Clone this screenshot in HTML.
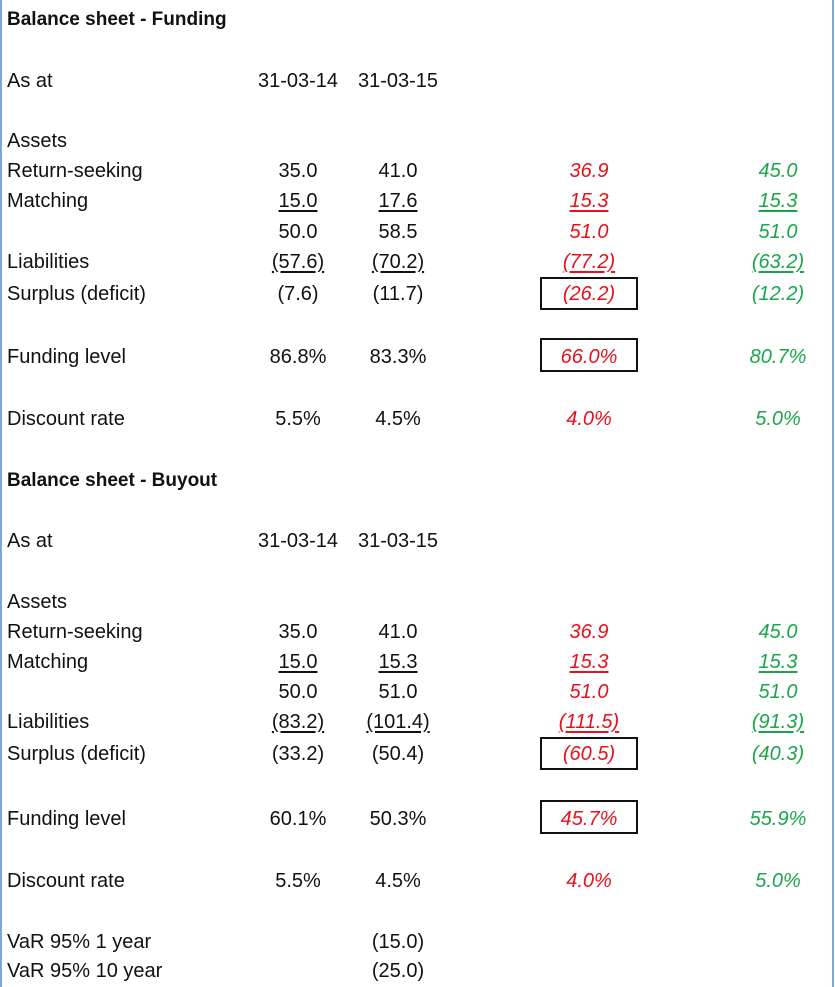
<!DOCTYPE html>
<html><head><meta charset="utf-8"><style>
body{margin:0;background:#fff;}
#page{position:relative;width:835px;height:987px;overflow:hidden;background:#fff;font-family:"Liberation Sans",sans-serif;font-size:20px;color:#111;}
.bl{position:absolute;top:0;bottom:0;width:2px;background:#7da7d9;}
.t{position:absolute;white-space:nowrap;transform:translateY(-50%);line-height:22px;margin-top:1px;}
.c{transform:translate(-50%,-50%);}
.b{font-weight:bold;font-size:19px;}
.r{color:#e8101a;font-style:italic;}
.g{color:#1aa64a;font-style:italic;}
.u{text-decoration:underline;text-underline-offset:3px;}
.box{position:absolute;border:2.5px solid #111;box-sizing:border-box;}
</style></head><body>
<div id="page">
<div class="bl" style="left:0"></div>
<div class="bl" style="left:832px"></div>

<div class="t b" style="left:7px;top:19px">Balance sheet - Funding</div>
<div class="t" style="left:7px;top:80px">As at</div>
<div class="t c" style="left:298px;top:80px">31-03-14</div>
<div class="t c" style="left:398px;top:80px">31-03-15</div>
<div class="t" style="left:7px;top:140px">Assets</div>

<div class="t" style="left:7px;top:170px">Return-seeking</div>
<div class="t c" style="left:298px;top:170px">35.0</div>
<div class="t c" style="left:398px;top:170px">41.0</div>
<div class="t c r" style="left:589px;top:170px">36.9</div>
<div class="t c g" style="left:778px;top:170px">45.0</div>

<div class="t" style="left:7px;top:200px">Matching</div>
<div class="t c u" style="left:298px;top:200px">15.0</div>
<div class="t c u" style="left:398px;top:200px">17.6</div>
<div class="t c r u" style="left:589px;top:200px">15.3</div>
<div class="t c g u" style="left:778px;top:200px">15.3</div>

<div class="t c" style="left:298px;top:231px">50.0</div>
<div class="t c" style="left:398px;top:231px">58.5</div>
<div class="t c r" style="left:589px;top:231px">51.0</div>
<div class="t c g" style="left:778px;top:231px">51.0</div>

<div class="t" style="left:7px;top:261px">Liabilities</div>
<div class="t c u" style="left:298px;top:261px">(57.6)</div>
<div class="t c u" style="left:398px;top:261px">(70.2)</div>
<div class="t c r u" style="left:589px;top:261px">(77.2)</div>
<div class="t c g u" style="left:778px;top:261px">(63.2)</div>

<div class="t" style="left:7px;top:293px">Surplus (deficit)</div>
<div class="t c" style="left:298px;top:293px">(7.6)</div>
<div class="t c" style="left:398px;top:293px">(11.7)</div>
<div class="box" style="left:540px;top:277px;width:98px;height:33px"></div>
<div class="t c r" style="left:589px;top:293px">(26.2)</div>
<div class="t c g" style="left:778px;top:293px">(12.2)</div>

<div class="t" style="left:7px;top:356px">Funding level</div>
<div class="t c" style="left:298px;top:356px">86.8%</div>
<div class="t c" style="left:398px;top:356px">83.3%</div>
<div class="box" style="left:540px;top:338px;width:98px;height:34px"></div>
<div class="t c r" style="left:589px;top:356px">66.0%</div>
<div class="t c g" style="left:778px;top:356px">80.7%</div>

<div class="t" style="left:7px;top:418px">Discount rate</div>
<div class="t c" style="left:298px;top:418px">5.5%</div>
<div class="t c" style="left:398px;top:418px">4.5%</div>
<div class="t c r" style="left:589px;top:418px">4.0%</div>
<div class="t c g" style="left:778px;top:418px">5.0%</div>

<div class="t b" style="left:7px;top:480px">Balance sheet - Buyout</div>
<div class="t" style="left:7px;top:540px">As at</div>
<div class="t c" style="left:298px;top:540px">31-03-14</div>
<div class="t c" style="left:398px;top:540px">31-03-15</div>
<div class="t" style="left:7px;top:601px">Assets</div>

<div class="t" style="left:7px;top:631px">Return-seeking</div>
<div class="t c" style="left:298px;top:631px">35.0</div>
<div class="t c" style="left:398px;top:631px">41.0</div>
<div class="t c r" style="left:589px;top:631px">36.9</div>
<div class="t c g" style="left:778px;top:631px">45.0</div>

<div class="t" style="left:7px;top:661px">Matching</div>
<div class="t c u" style="left:298px;top:661px">15.0</div>
<div class="t c u" style="left:398px;top:661px">15.3</div>
<div class="t c r u" style="left:589px;top:661px">15.3</div>
<div class="t c g u" style="left:778px;top:661px">15.3</div>

<div class="t c" style="left:298px;top:691px">50.0</div>
<div class="t c" style="left:398px;top:691px">51.0</div>
<div class="t c r" style="left:589px;top:691px">51.0</div>
<div class="t c g" style="left:778px;top:691px">51.0</div>

<div class="t" style="left:7px;top:721px">Liabilities</div>
<div class="t c u" style="left:298px;top:721px">(83.2)</div>
<div class="t c u" style="left:398px;top:721px">(101.4)</div>
<div class="t c r u" style="left:589px;top:721px">(111.5)</div>
<div class="t c g u" style="left:778px;top:721px">(91.3)</div>

<div class="t" style="left:7px;top:753px">Surplus (deficit)</div>
<div class="t c" style="left:298px;top:753px">(33.2)</div>
<div class="t c" style="left:398px;top:753px">(50.4)</div>
<div class="box" style="left:540px;top:737px;width:98px;height:33px"></div>
<div class="t c r" style="left:589px;top:753px">(60.5)</div>
<div class="t c g" style="left:778px;top:753px">(40.3)</div>

<div class="t" style="left:7px;top:818px">Funding level</div>
<div class="t c" style="left:298px;top:818px">60.1%</div>
<div class="t c" style="left:398px;top:818px">50.3%</div>
<div class="box" style="left:540px;top:800px;width:98px;height:34px"></div>
<div class="t c r" style="left:589px;top:818px">45.7%</div>
<div class="t c g" style="left:778px;top:818px">55.9%</div>

<div class="t" style="left:7px;top:880px">Discount rate</div>
<div class="t c" style="left:298px;top:880px">5.5%</div>
<div class="t c" style="left:398px;top:880px">4.5%</div>
<div class="t c r" style="left:589px;top:880px">4.0%</div>
<div class="t c g" style="left:778px;top:880px">5.0%</div>

<div class="t" style="left:7px;top:941px">VaR 95% 1 year</div>
<div class="t c" style="left:398px;top:941px">(15.0)</div>
<div class="t" style="left:7px;top:970px">VaR 95% 10 year</div>
<div class="t c" style="left:398px;top:970px">(25.0)</div>
</div>
</body></html>
